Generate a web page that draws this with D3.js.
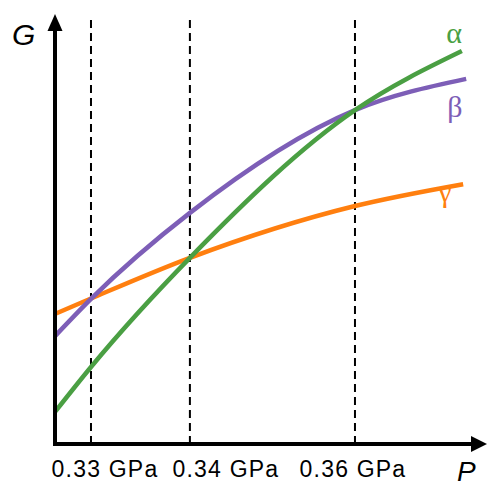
<!DOCTYPE html>
<html>
<head>
<meta charset="utf-8">
<script src="https://cdn.jsdelivr.net/npm/d3@7"></script>
<style>
  body { margin: 0; background: #fff; }
  svg { display: block; }
</style>
</head>
<body>
<div id="root"></div>
<script>
// schematic G(P) curves, arbitrary units (P and G both 0..100)
var pAlpha = [0, 8.35, 31.3, 69.6, 94.4];
var gAlpha = [7.5, 18.0, 43.5, 78.0, 91.8];
var pBeta  = [0, 8.35, 31.3, 69.6, 95.4];
var gBeta  = [25.2, 33.9, 54.0, 78.0, 85.3];
var pGamma = [0, 8.35, 31.3, 69.6, 94.7];
var gGamma = [30.4, 34.0, 43.5, 55.6, 60.7];

// transition pressures (dashed lines) and their labels
var transP = [8.35, 31.3, 69.6];
var transLabels = ["0.33 GPa", "0.34 GPa", "0.36 GPa"];

var phaseNames = ["\u03b1", "\u03b2", "\u03b3"];
var phaseColors = ["#4a9f43", "#7d5eb7", "#ff7f0f"];

var width = 487, height = 487;
var svg = d3.select("#root").append("svg")
    .attr("width", width)
    .attr("height", height);

var x = d3.scaleLinear().domain([0, 100]).range([55, 486]);
var y = d3.scaleLinear().domain([0, 100]).range([444, 16]);

// dashed transition lines
svg.append("g").selectAll("line")
    .data(transP)
  .enter().append("line")
    .attr("x1", function(d) { return x(d); })
    .attr("x2", function(d) { return x(d); })
    .attr("y1", y(0))
    .attr("y2", 15)
    .attr("stroke", "#000")
    .attr("stroke-width", 2)
    .attr("stroke-dasharray", "8,5");

// curves
var series = [
  {p: pAlpha, g: gAlpha},
  {p: pBeta, g: gBeta},
  {p: pGamma, g: gGamma}
];
var line = d3.line()
    .x(function(d) { return x(d[0]); })
    .y(function(d) { return y(d[1]); })
    .curve(d3.curveMonotoneX);

// draw gamma first, then beta, then alpha on top
[2, 1, 0].forEach(function(i) {
  var pts = series[i].p.map(function(p, j) { return [p, series[i].g[j]]; });
  svg.append("path")
      .attr("d", line(pts))
      .attr("fill", "none")
      .attr("stroke", phaseColors[i])
      .attr("stroke-width", 4.5);
});

// axes with arrow heads
svg.append("line")
    .attr("x1", x(0)).attr("x2", x(0))
    .attr("y1", y(0) + 2).attr("y2", 28)
    .attr("stroke", "#000").attr("stroke-width", 4);
svg.append("path")
    .attr("d", "M" + x(0) + ",14 L" + (x(0) - 7.5) + ",31 L" + (x(0) + 7.5) + ",31 Z")
    .attr("fill", "#000");
svg.append("line")
    .attr("x1", x(0) - 2).attr("x2", 474)
    .attr("y1", y(0)).attr("y2", y(0))
    .attr("stroke", "#000").attr("stroke-width", 4);
svg.append("path")
    .attr("d", "M487," + y(0) + " L471," + (y(0) - 8) + " L471," + (y(0) + 8) + " Z")
    .attr("fill", "#000");

// tick labels under the dashed lines
var labelShift = [14, 36, -2];
svg.append("g").selectAll("text")
    .data(transLabels)
  .enter().append("text")
    .attr("x", function(d, i) { return x(transP[i]) + labelShift[i]; })
    .attr("y", 477)
    .attr("text-anchor", "middle")
    .attr("font-family", "Liberation Sans, Arial, sans-serif")
    .attr("font-size", 23)
    .attr("letter-spacing", 1.2)
    .attr("fill", "#000")
    .text(function(d) { return d; });

// axis titles
svg.append("text")
    .attr("x", 12).attr("y", 45)
    .attr("font-family", "Liberation Sans, Arial, sans-serif")
    .attr("font-style", "italic")
    .attr("font-size", 30)
    .text("G");
svg.append("text")
    .attr("x", 457).attr("y", 481)
    .attr("font-family", "Liberation Sans, Arial, sans-serif")
    .attr("font-style", "italic")
    .attr("font-size", 28)
    .text("P");

// phase labels
var phaseLabelPos = [[454, 43], [455, 117], [445, 202]];
svg.append("g").selectAll("text")
    .data(phaseNames)
  .enter().append("text")
    .attr("x", function(d, i) { return phaseLabelPos[i][0]; })
    .attr("y", function(d, i) { return phaseLabelPos[i][1]; })
    .attr("text-anchor", "middle")
    .attr("font-family", "Liberation Serif, Times New Roman, serif")
    .attr("font-size", 30)
    .attr("fill", function(d, i) { return phaseColors[i]; })
    .text(function(d) { return d; });
</script>
</body>
</html>
